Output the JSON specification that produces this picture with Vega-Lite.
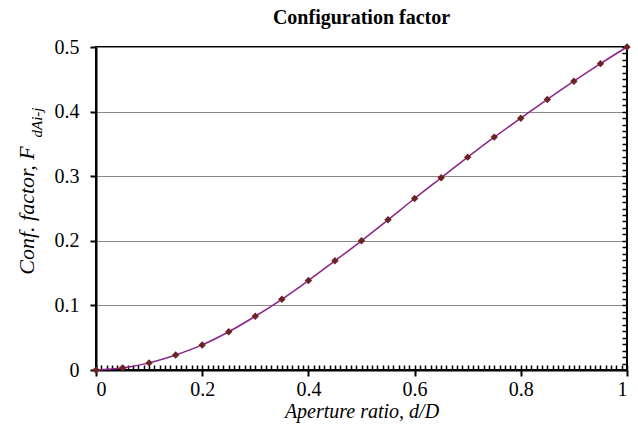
{
  "$schema": "https://vega.github.io/schema/vega-lite/v6.json",
  "width": 531,
  "height": 323,
  "autosize": "none",
  "padding": {"left": 96, "top": 47, "right": 11, "bottom": 63},
  "background": "white",
  "title": {"text": "Configuration factor", "font": "Liberation Serif", "fontSize": 20, "fontWeight": "bold", "color": "black", "offset": 9},
  "config": {"view": {"stroke": "black", "strokeWidth": 2}},
  "data": {"values": [
    {"ratio": 0, "factor": 0},
    {"ratio": 0.05, "factor": 0.003},
    {"ratio": 0.1, "factor": 0.011},
    {"ratio": 0.15, "factor": 0.0232},
    {"ratio": 0.2, "factor": 0.0388},
    {"ratio": 0.25, "factor": 0.0592},
    {"ratio": 0.3, "factor": 0.0832},
    {"ratio": 0.35, "factor": 0.1095},
    {"ratio": 0.4, "factor": 0.1385},
    {"ratio": 0.45, "factor": 0.169},
    {"ratio": 0.5, "factor": 0.2},
    {"ratio": 0.55, "factor": 0.2325},
    {"ratio": 0.6, "factor": 0.2655},
    {"ratio": 0.65, "factor": 0.2975},
    {"ratio": 0.7, "factor": 0.3295},
    {"ratio": 0.75, "factor": 0.3605},
    {"ratio": 0.8, "factor": 0.3898},
    {"ratio": 0.85, "factor": 0.4188},
    {"ratio": 0.9, "factor": 0.447},
    {"ratio": 0.95, "factor": 0.4742},
    {"ratio": 1, "factor": 0.5}
  ]},
  "layer": [
    {
      "mark": {"type": "line", "interpolate": "monotone", "color": "#8B238B", "strokeWidth": 1.5},
      "encoding": {
        "x": {"field": "ratio", "type": "quantitative", "scale": {"domain": [0, 1], "nice": false},
          "axis": {"orient": "bottom", "values": [0, 0.2, 0.4, 0.6, 0.8, 1], "format": ".1~f", "grid": false,
            "domainColor": "#000000", "domainWidth": 2, "ticks": true, "tickColor": "#000000", "tickSize": 6, "tickWidth": 2,
            "labelFont": "Liberation Serif", "labelFontSize": 20, "labelColor": "#000000", "labelPadding": 3,
            "title": "Aperture ratio, d/D", "titleFont": "Liberation Serif", "titleFontStyle": "italic", "titleFontWeight": "normal", "titleColor": "#000000", "titleFontSize": 20, "titlePadding": 2}},
        "y": {"field": "factor", "type": "quantitative", "scale": {"domain": [0, 0.5], "nice": false},
          "axis": {"orient": "left", "values": [0, 0.1, 0.2, 0.3, 0.4, 0.5], "format": ".1~f", "grid": true, "gridColor": "#888888", "gridWidth": 1.2,
            "domainColor": "#000000", "domainWidth": 2, "ticks": true, "tickColor": "#000000", "tickSize": 6, "tickWidth": 2,
            "labelFont": "Liberation Serif", "labelFontSize": 20, "labelColor": "#000000", "labelPadding": 11,
            "title": "Conf. factor, F", "titleFont": "Liberation Serif", "titleFontStyle": "italic", "titleFontWeight": "normal", "titleColor": "#000000", "titleFontSize": 22, "titleAngle": -90, "titleAlign": "center", "titleBaseline": "alphabetic", "titleX": -63, "titleY": 163}}
      }
    },
    {
      "mark": {"type": "point", "shape": "diamond", "filled": true, "color": "#6B2323", "size": 55, "opacity": 1},
      "encoding": {
        "x": {"field": "ratio", "type": "quantitative", "scale": {"domain": [0, 1], "nice": false},
          "axis": {"orient": "bottom", "domain": false, "labels": false, "ticks": false, "grid": true, "gridColor": "#000000", "gridWidth": 1.5, "gridDash": [5, 318], "gridDashOffset": 5, "gridCap": "butt", "title": null,
            "values": [0,0.01,0.02,0.03,0.04,0.05,0.06,0.07,0.08,0.09,0.1,0.11,0.12,0.13,0.14,0.15,0.16,0.17,0.18,0.19,0.2,0.21,0.22,0.23,0.24,0.25,0.26,0.27,0.28,0.29,0.3,0.31,0.32,0.33,0.34,0.35,0.36,0.37,0.38,0.39,0.4,0.41,0.42,0.43,0.44,0.45,0.46,0.47,0.48,0.49,0.5,0.51,0.52,0.53,0.54,0.55,0.56,0.57,0.58,0.59,0.6,0.61,0.62,0.63,0.64,0.65,0.66,0.67,0.68,0.69,0.7,0.71,0.72,0.73,0.74,0.75,0.76,0.77,0.78,0.79,0.8,0.81,0.82,0.83,0.84,0.85,0.86,0.87,0.88,0.89,0.9,0.91,0.92,0.93,0.94,0.95,0.96,0.97,0.98,0.99,1]}},
        "y": {"field": "factor", "type": "quantitative", "scale": {"domain": [0, 0.5], "nice": false},
          "axis": {"orient": "left", "domain": false, "labels": false, "ticks": false, "grid": true, "gridColor": "#000000", "gridWidth": 1.5, "gridDash": [5, 526], "gridDashOffset": 5, "gridCap": "butt",
            "title": "dAi-j", "titleFont": "Liberation Serif", "titleFontStyle": "italic", "titleFontWeight": "normal", "titleColor": "#000000", "titleFontSize": 15, "titleAngle": -90, "titleAlign": "center", "titleBaseline": "alphabetic", "titleX": -55, "titleY": 75,
            "values": [0,0.01,0.02,0.03,0.04,0.05,0.06,0.07,0.08,0.09,0.1,0.11,0.12,0.13,0.14,0.15,0.16,0.17,0.18,0.19,0.2,0.21,0.22,0.23,0.24,0.25,0.26,0.27,0.28,0.29,0.3,0.31,0.32,0.33,0.34,0.35,0.36,0.37,0.38,0.39,0.4,0.41,0.42,0.43,0.44,0.45,0.46,0.47,0.48,0.49,0.5]}}
      }
    }
  ],
  "resolve": {"scale": {"x": "independent", "y": "independent"}}
}
